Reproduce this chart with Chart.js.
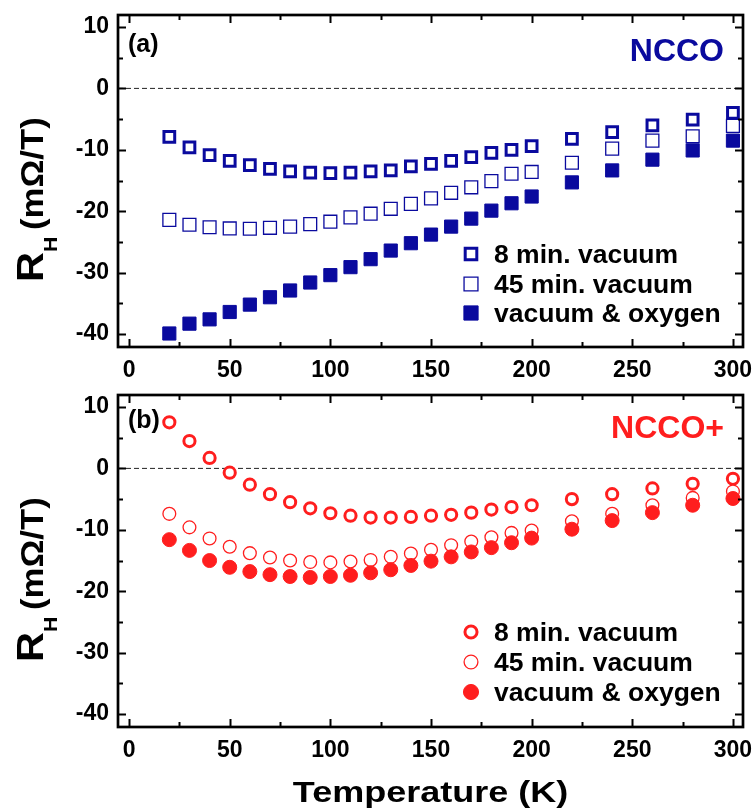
<!DOCTYPE html>
<html>
<head>
<meta charset="utf-8">
<script src="https://cdn.jsdelivr.net/npm/chart.js@4.4.0/dist/chart.umd.min.js"></script>
<style>
  body { margin: 0; background: #fff; }
  #wrap { position: relative; width: 755px; height: 811px; }
  canvas { position: absolute; left: 0; }
</style>
</head>
<body>
<div id="wrap">
  <canvas id="chartA" width="755" height="380" style="top:0"></canvas>
  <canvas id="chartB" width="755" height="431" style="top:380px"></canvas>
</div>
<script>
// temperatures (K)
const temps = [20, 30, 40, 50, 60, 70, 80, 90, 100, 110, 120, 130, 140, 150, 160, 170, 180, 190, 200, 220, 240, 260, 280, 300];

// panel (a) NCCO, R_H in mOhm/T
const ncco8min  = [-7.9, -9.6, -10.85, -11.8, -12.5, -13.1, -13.5, -13.7, -13.8, -13.7, -13.5, -13.35, -12.7, -12.3, -11.8, -11.2, -10.5, -10.0, -9.4, -8.2, -7.1, -6.0, -5.1, -4.0];
const ncco45min = [-21.4, -22.2, -22.6, -22.8, -22.85, -22.7, -22.5, -22.1, -21.7, -21.0, -20.4, -19.6, -18.8, -17.9, -17.0, -16.1, -15.1, -13.9, -13.6, -12.1, -9.8, -8.5, -7.8, -6.1];
const nccoOxy   = [-39.9, -38.3, -37.6, -36.4, -35.2, -34.0, -32.9, -31.6, -30.4, -29.1, -27.8, -26.4, -25.2, -23.8, -22.5, -21.2, -19.9, -18.7, -17.6, -15.3, -13.35, -11.6, -10.1, -8.5];

// panel (b) NCCO+
const nccoP8min  = [7.5, 4.45, 1.7, -0.7, -2.65, -4.2, -5.5, -6.5, -7.3, -7.7, -8.0, -8.0, -7.9, -7.7, -7.55, -7.2, -6.7, -6.3, -6.0, -5.0, -4.2, -3.26, -2.5, -1.7];
const nccoP45min = [-7.4, -9.6, -11.4, -12.75, -13.8, -14.5, -15.0, -15.25, -15.3, -15.15, -14.9, -14.4, -13.85, -13.25, -12.5, -11.9, -11.2, -10.5, -10.1, -8.6, -7.4, -6.0, -4.8, -3.75];
const nccoPOxy   = [-11.6, -13.35, -15.0, -16.1, -16.8, -17.3, -17.6, -17.75, -17.6, -17.4, -17.0, -16.5, -15.8, -15.1, -14.4, -13.6, -12.9, -12.1, -11.35, -9.9, -8.5, -7.2, -6.0, -4.9];

const seriesNames = ['8 min. vacuum', '45 min. vacuum', 'vacuum & oxygen'];
const xTicks = [0, 50, 100, 150, 200, 250, 300];
const xMinor = [25, 75, 125, 175, 225, 275];
const yTicks = [-40, -30, -20, -10, 0, 10];
const yMinor = [-35, -25, -15, -5, 5];

const FONT = "'Liberation Sans', Arial, Helvetica, sans-serif";
const BLUE = '#0a0a9e';
const RED = '#ff1e1e';

function pts(arr) {
  return temps.map((t, i) => ({x: t, y: arr[i]}));
}

function drawYTitle(ctx) {
  ctx.save();
  ctx.translate(43, 282);
  ctx.rotate(-Math.PI / 2);
  ctx.scale(1.12, 1);
  ctx.fillStyle = '#000';
  ctx.textAlign = 'left';
  ctx.textBaseline = 'alphabetic';
  ctx.font = 'bold 37px ' + FONT;
  ctx.fillText('R', 0, 0);
  let x = ctx.measureText('R').width;
  ctx.font = 'bold 19px ' + FONT;
  ctx.fillText('H', x, 14);
  x += ctx.measureText('H').width + 6;
  ctx.font = 'bold 31px ' + FONT;
  ctx.fillText('(m\u03A9/T)', x, 0);
  ctx.restore();
}

const panelPlugin = {
  id: 'panel',
  afterDraw(chart, args, opts) {
    const ctx = chart.ctx;
    const a = chart.chartArea;
    const xs = chart.scales.x, ys = chart.scales.y;
    ctx.save();
    // inward ticks on all four sides
    ctx.strokeStyle = '#000';
    ctx.lineWidth = 2;
    ctx.beginPath();
    xTicks.concat(xMinor).forEach(v => {
      const len = xTicks.includes(v) ? 8 : 5;
      const px = Math.round(xs.getPixelForValue(v)) + 0.5;
      ctx.moveTo(px, a.bottom); ctx.lineTo(px, a.bottom - len);
      ctx.moveTo(px, a.top); ctx.lineTo(px, a.top + len);
    });
    yTicks.concat(yMinor).forEach(v => {
      const len = yTicks.includes(v) ? 8 : 5;
      const py = Math.round(ys.getPixelForValue(v)) + 0.5;
      ctx.moveTo(a.left, py); ctx.lineTo(a.left + len, py);
      ctx.moveTo(a.right, py); ctx.lineTo(a.right - len, py);
    });
    ctx.stroke();
    // frame
    ctx.lineWidth = 2.7;
    ctx.strokeRect(a.left, a.top, a.right - a.left, a.bottom - a.top);

    // panel letter and sample name
    ctx.fillStyle = '#000';
    ctx.font = 'bold 25px ' + FONT;
    ctx.textAlign = 'left';
    ctx.fillText(opts.letter, 128, opts.letterY);
    ctx.fillStyle = opts.color;
    ctx.font = 'bold 32px ' + FONT;
    ctx.textAlign = 'right';
    ctx.fillText(opts.name, 724, opts.nameY);

    // legend
    const rows = opts.rows;
    chart.data.datasets.slice(1).forEach((ds, i) => {
      ctx.fillStyle = ds.backgroundColor;
      ctx.strokeStyle = ds.borderColor;
      ctx.lineWidth = ds.borderWidth;
      Chart.helpers.drawPoint(ctx, {
        pointStyle: ds.pointStyle, radius: ds.pointRadius * 1.08,
        borderWidth: ds.borderWidth, rotation: 0
      }, 471, rows[i]);
      ctx.fillStyle = '#000';
      ctx.font = 'bold 26.5px ' + FONT;
      ctx.textAlign = 'left';
      ctx.fillText(ds.label, 494, rows[i] + 9);
    });

    drawYTitle(ctx);

    if (opts.xTitle) {
      ctx.save();
      ctx.translate((a.left + a.right) / 2, 422);
      ctx.scale(1.2, 1);
      ctx.fillStyle = '#000';
      ctx.font = 'bold 30px ' + FONT;
      ctx.textAlign = 'center';
      ctx.fillText(opts.xTitle, 0, 0);
      ctx.restore();
    }
    ctx.restore();
  }
};

function noPad(s) {
  s.paddingTop = 0; s.paddingBottom = 0; s.paddingLeft = 0; s.paddingRight = 0;
}

function makePanel(id, color, shape, series, opts) {
  const sizes = shape === 'rect' ? [7.6, 9.1, 9.3] : [5.6, 6.4, 7.0];
  const borders = [3, 1.3, 1];
  const datasets = [{
    type: 'line',
    label: 'zero',
    data: [{x: -5.5, y: 0}, {x: 305, y: 0}],
    borderColor: '#222',
    borderWidth: 1,
    borderDash: [5, 3],
    pointRadius: 0,
    order: 10
  }];
  series.forEach((arr, i) => {
    datasets.push({
      type: 'scatter',
      label: seriesNames[i],
      data: pts(arr),
      pointStyle: shape,
      pointRadius: sizes[i],
      borderWidth: borders[i],
      borderColor: color,
      backgroundColor: i === 2 ? color : '#ffffff',
      order: 3 - i
    });
  });
  const canvas = document.getElementById(id);
  return new Chart(canvas, {
    type: 'scatter',
    data: {datasets: datasets},
    options: {
      responsive: false,
      animation: false,
      devicePixelRatio: 1,
      events: [],
      layout: {padding: {top: 15, right: 12, left: 0, bottom: 0}},
      plugins: {
        legend: {display: false},
        tooltip: {enabled: false},
        panel: opts
      },
      scales: {
        x: {
          type: 'linear',
          min: -5.5,
          max: 305,
          afterBuildTicks: s => { s.ticks = xTicks.map(v => ({value: v})); },
          afterFit: s => { s.height = canvas.height - 347; noPad(s); },
          grid: {display: false, drawTicks: false},
          border: {display: false},
          ticks: {
            padding: 10,
            color: '#000',
            font: {family: FONT, size: 23, weight: 'bold'}
          }
        },
        y: {
          type: 'linear',
          min: -42.1,
          max: 11.95,
          afterBuildTicks: s => { s.ticks = yTicks.map(v => ({value: v})); },
          afterFit: s => { s.width = 118; noPad(s); },
          grid: {display: false, drawTicks: false},
          border: {display: false},
          ticks: {
            padding: 9,
            color: '#000',
            font: {family: FONT, size: 23, weight: 'bold'}
          }
        }
      }
    },
    plugins: [panelPlugin]
  });
}

makePanel('chartA', BLUE, 'rect', [ncco8min, ncco45min, nccoOxy],
  {letter: '(a)', letterY: 52, name: 'NCCO', nameY: 61, color: BLUE, rows: [254, 284, 313]});
makePanel('chartB', RED, 'circle', [nccoP8min, nccoP45min, nccoPOxy],
  {letter: '(b)', letterY: 48, name: 'NCCO+', nameY: 58, color: RED, rows: [252, 282, 312], xTitle: 'Temperature (K)'});
</script>
</body>
</html>
